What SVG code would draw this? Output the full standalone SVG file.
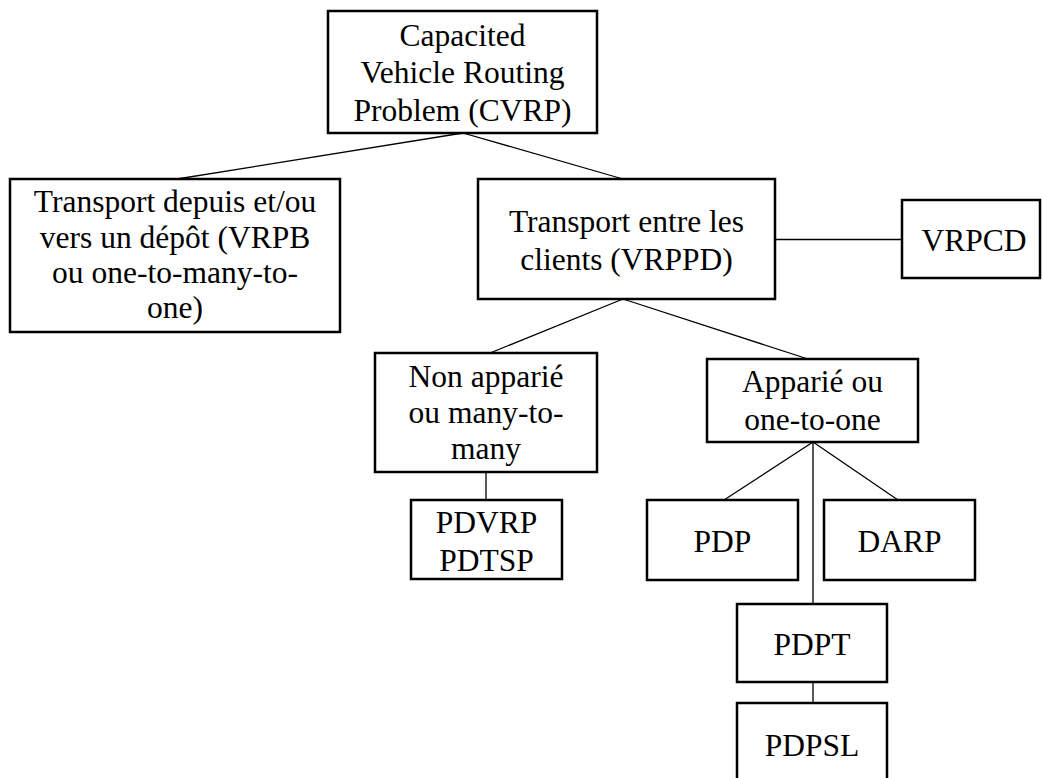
<svg xmlns="http://www.w3.org/2000/svg" width="1043" height="778" viewBox="0 0 1043 778">
  <style>
    .box { fill: #fff; stroke: #000; stroke-width: 2.5; }
    .lbl { font-family: "Liberation Serif", "Times New Roman", serif; font-size: 31.5px; fill: #000; text-anchor: middle; }
    .edge { stroke: #000; stroke-width: 1.3; fill: none; }
  </style>
  <rect width="1043" height="778" fill="#fff"/>

  <g id="connectors">
    <line class="edge" x1="463" y1="133" x2="177" y2="179"/>
    <line class="edge" x1="463" y1="133" x2="623" y2="179"/>
    <line class="edge" x1="775" y1="239.5" x2="902" y2="239.5"/>
    <line class="edge" x1="623" y1="299" x2="490" y2="353"/>
    <line class="edge" x1="623" y1="299" x2="808" y2="359"/>
    <line class="edge" x1="486" y1="472" x2="486" y2="500"/>
    <line class="edge" x1="813" y1="442" x2="724" y2="500"/>
    <line class="edge" x1="813" y1="442" x2="898" y2="500"/>
    <line class="edge" x1="813" y1="442" x2="813" y2="604"/>
    <line class="edge" x1="813" y1="682" x2="813" y2="703"/>
  </g>

  <g id="cvrp">
    <rect class="box" x="328" y="11" width="269" height="122"/>
    <text class="lbl" x="462.5" y="46">Capacited</text>
    <text class="lbl" x="462.5" y="83">Vehicle Routing</text>
    <text class="lbl" x="462.5" y="121">Problem (CVRP)</text>
  </g>

  <g id="depot">
    <rect class="box" x="10" y="179" width="330" height="153"/>
    <text class="lbl" x="175" y="212">Transport depuis et/ou</text>
    <text class="lbl" x="175" y="248">vers un dépôt (VRPB</text>
    <text class="lbl" x="175" y="283">ou one-to-many-to-</text>
    <text class="lbl" x="175" y="318">one)</text>
  </g>

  <g id="vrppd">
    <rect class="box" x="478" y="179" width="297" height="120"/>
    <text class="lbl" x="626.5" y="232">Transport entre les</text>
    <text class="lbl" x="626.5" y="270">clients (VRPPD)</text>
  </g>

  <g id="vrpcd">
    <rect class="box" x="902" y="200" width="138" height="78"/>
    <text class="lbl" x="974" y="251">VRPCD</text>
  </g>

  <g id="non-apparie">
    <rect class="box" x="375" y="353" width="222" height="119"/>
    <text class="lbl" x="486" y="387">Non apparié</text>
    <text class="lbl" x="486" y="423">ou many-to-</text>
    <text class="lbl" x="486" y="459">many</text>
  </g>

  <g id="apparie">
    <rect class="box" x="707" y="359" width="211" height="83"/>
    <text class="lbl" x="812.5" y="392">Apparié ou</text>
    <text class="lbl" x="812.5" y="430">one-to-one</text>
  </g>

  <g id="pdvrp">
    <rect class="box" x="411" y="500" width="151" height="79"/>
    <text class="lbl" x="486.5" y="533">PDVRP</text>
    <text class="lbl" x="486.5" y="571">PDTSP</text>
  </g>

  <g id="pdp">
    <rect class="box" x="647" y="500" width="151" height="80"/>
    <text class="lbl" x="722.5" y="552">PDP</text>
  </g>

  <g id="darp">
    <rect class="box" x="824" y="500" width="151" height="80"/>
    <text class="lbl" x="899.5" y="552">DARP</text>
  </g>

  <g id="pdpt">
    <rect class="box" x="737" y="604" width="150" height="78"/>
    <text class="lbl" x="812" y="655">PDPT</text>
  </g>

  <g id="pdpsl">
    <rect class="box" x="737" y="703" width="150" height="90"/>
    <text class="lbl" x="812" y="756">PDPSL</text>
  </g>
</svg>
